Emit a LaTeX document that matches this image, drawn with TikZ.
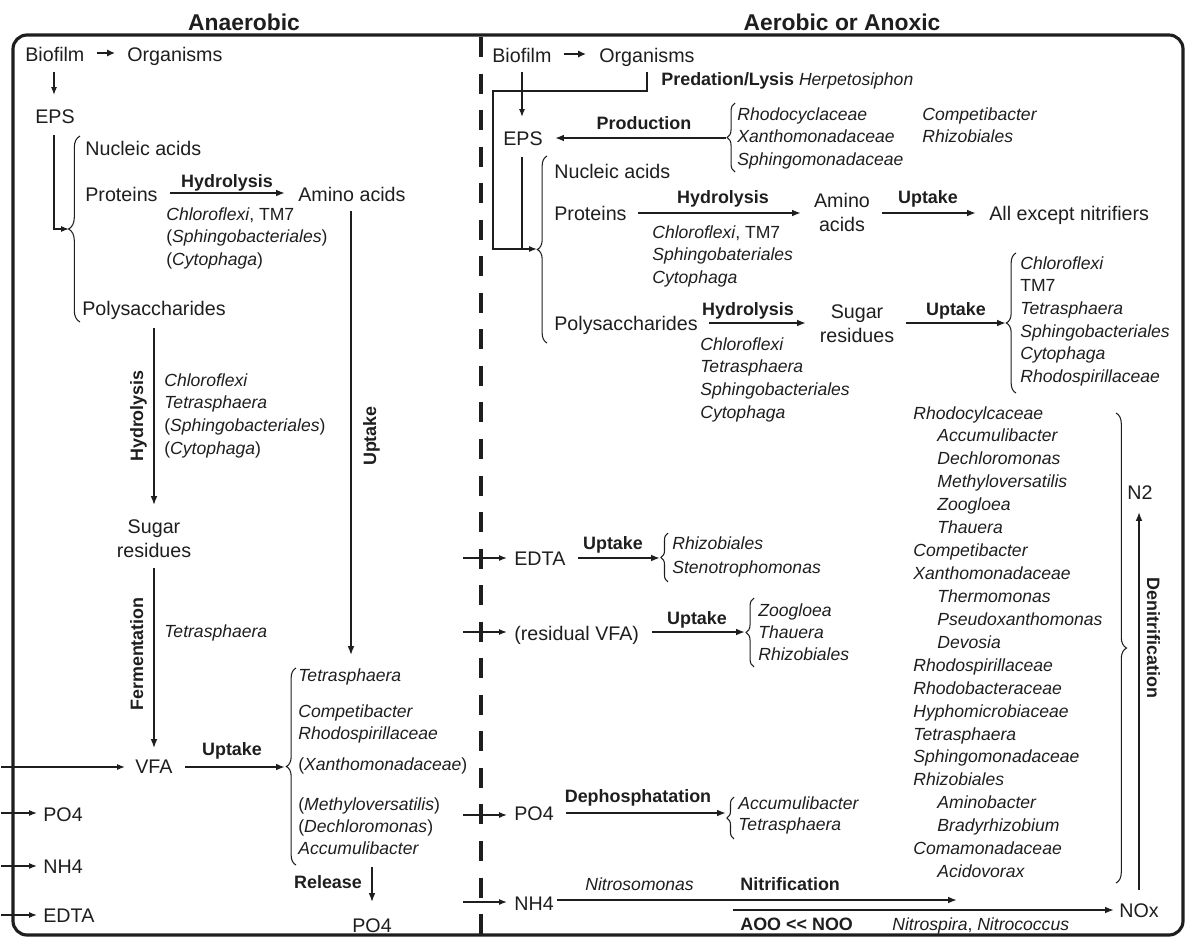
\documentclass[tikz,border=0pt]{standalone}
\usepackage{fontspec}
\setmainfont{Liberation Sans}
\usetikzlibrary{arrows.meta,decorations.pathreplacing}
\definecolor{ink}{RGB}{30,30,30}
\newcommand{\tl}[1]{\begin{tabular}[t]{@{}l@{}}#1\end{tabular}}
\newcommand{\tcc}[1]{\begin{tabular}[t]{@{}c@{}}#1\end{tabular}}
\newcommand{\ital}[1]{\textit{#1}}
\begin{document}
\begin{tikzpicture}[x=0.02cm,y=-0.02cm,
  every node/.style={inner sep=0pt, text=ink},
  reg/.style={font=\fontsize{11.2}{14.2}\selectfont, anchor=base west},
  sm/.style={font=\fontsize{10}{12.9}\selectfont, anchor=base west},
  itl/.style={font=\fontsize{10}{12.9}\selectfont\itshape, anchor=base west},
  bld/.style={font=\fontsize{10.2}{13}\selectfont\bfseries, anchor=base},
  hd/.style={font=\fontsize{13}{15}\selectfont\bfseries, anchor=base},
  harr/.style={draw=ink, line width=1.1pt, -{Latex[length=5pt,width=3.8pt]}},
  varr/.style={draw=ink, line width=0.9pt, -{Latex[length=5pt,width=3.8pt]}},
  tarr/.style={draw=ink, line width=0.7pt, -{Latex[length=4.5pt,width=3.4pt]}},
  sarr/.style={draw=ink, line width=1.2pt, -{Latex[length=4.5pt,width=4.2pt]}},
  tln/.style={draw=ink, line width=0.7pt},
  brc/.style={draw=ink, line width=0.6pt, decorate, decoration={brace, amplitude=#1}},
  brc/.default=6pt
]
\useasboundingbox (0,0) rectangle (1186,937);

% frame and separator
\draw[ink, line width=1.8pt, rounded corners=8pt] (13,35) rectangle (1183,935);
\draw[ink, line width=2.4pt, dash pattern=on 11.4pt off 9.4pt] (481,37) -- (481,935);

% headings
\node[hd] (hAn) at (244,30) {Anaerobic};
\node[hd] (hAe) at (842,30) {Aerobic or Anoxic};

% ================= LEFT (anaerobic) =================
\node[reg] (lBio) at (25,61) {Biofilm};
\node[reg] (lOrg) at (127,61) {Organisms};
\node[reg] (lEPS) at (35,123) {EPS};
\node[reg] (lNuc) at (85,155) {Nucleic acids};
\node[reg] (lProt) at (85,201) {Proteins};
\node[reg] (lAmino) at (298,201) {Amino acids};
\node[bld] (lHyd1) at (227,187) {Hydrolysis};
\node[sm] (lProtOrg) at (166,220) {\tl{\ital{Chloroflexi}, TM7\\(\ital{Sphingobacteriales})\\(\ital{Cytophaga})}};
\node[reg] (lPoly) at (82,315) {Polysaccharides};
\node[bld, rotate=90] (lHyd2) at (143,416) {Hydrolysis};
\node[sm] (lPolyOrg) at (164,386) {\tl{\ital{Chloroflexi}\\\ital{Tetrasphaera}\\(\ital{Sphingobacteriales})\\(\ital{Cytophaga})}};
\node[reg, anchor=base] (lSugar) at (154,533) {\tcc{Sugar\\residues}};
\node[bld, rotate=90] (lFerm) at (143,654) {Fermentation};
\node[itl] (lFermOrg) at (164,637) {Tetrasphaera};
\node[bld, rotate=90] (lUpt) at (376,436) {Uptake};
\node[reg] (lVFA) at (135,773) {VFA};
\node[bld] (lUpt2) at (232,755) {Uptake};
\node[itl] (lG1) at (298,681) {Tetrasphaera};
\node[itl] (lG2) at (298,717) {\tl{Competibacter\\Rhodospirillaceae}};
\node[sm] (lG3) at (298,770) {(\ital{Xanthomonadaceae})};
\node[sm, font=\fontsize{10}{12.6}\selectfont] (lG4) at (298,810) {\tl{(\ital{Methyloversatilis})\\(\ital{Dechloromonas})\\\ital{Accumulibacter}}};
\node[bld] (lRel) at (328,888) {Release};
\node[reg] (lPO4b) at (352,932) {PO4};
\node[reg] (lPO4) at (43,821) {PO4};
\node[reg] (lNH4) at (43,873) {NH4};
\node[reg] (lEDTA) at (43,922) {EDTA};

\coordinate (lBioR) at (97,53);  \coordinate (lOrgL) at (115,53);
\coordinate (lBioD) at (54,72);  \coordinate (lEPSU) at (54,95);
\coordinate (lEPSD) at (54,135); \coordinate (lBr1Tip) at (69,229);
\coordinate (lProtR) at (170,193); \coordinate (lAminoL) at (285,193);
\coordinate (lPolyD) at (154,328); \coordinate (lSugarU) at (154,505);
\coordinate (lSugarD) at (154,568); \coordinate (lVFAU) at (154,748);
\coordinate (lAminoD) at (351,211); \coordinate (lListU) at (351,655);
\coordinate (lInV) at (1,767); \coordinate (lVFAL) at (125,767);
\coordinate (lVFAR) at (185,767); \coordinate (lBr2Tip) at (285,767);
\coordinate (lRelU) at (372,867); \coordinate (lPO4bU) at (372,902);
\coordinate (lInP) at (1,813); \coordinate (lPO4L) at (37,813);
\coordinate (lInN) at (1,866); \coordinate (lNH4L) at (37,866);
\coordinate (lInE) at (1,915); \coordinate (lEDTAL) at (37,915);

\draw[sarr] (lBioR) -- (lOrgL);
\draw[tarr] (lBioD) -- (lEPSU);
\draw[tarr] (lEPSD) |- (lBr1Tip);
\draw[brc=6.5pt] (80,322) -- (80,136);
\draw[harr] (lProtR) -- (lAminoL);
\draw[varr] (lPolyD) -- (lSugarU);
\draw[varr] (lSugarD) -- (lVFAU);
\draw[varr] (lAminoD) -- (lListU);
\draw[tarr] (lInV) -- (lVFAL);
\draw[harr] (lVFAR) -- (lBr2Tip);
\draw[brc=5.5pt] (296,865) -- (296,668);
\draw[varr] (lRelU) -- (lPO4bU);
\draw[tarr] (lInP) -- (lPO4L);
\draw[tarr] (lInN) -- (lNH4L);
\draw[tarr] (lInE) -- (lEDTAL);

% ================= RIGHT (aerobic / anoxic) =================
\node[reg] (rBio) at (492,62) {Biofilm};
\node[reg] (rOrg) at (599,62) {Organisms};
\node[anchor=base west] (rPred) at (661,85) {{\fontsize{10.2}{13}\selectfont\bfseries Predation/Lysis} {\fontsize{10}{13}\selectfont\itshape Herpetosiphon}};
\node[reg] (rEPS) at (503,145) {EPS};
\node[bld] (rProd) at (644,129) {Production};
\node[itl] (rProdOrg1) at (737,120) {\tl{Rhodocyclaceae\\Xanthomonadaceae\\Sphingomonadaceae}};
\node[itl] (rProdOrg2) at (922,120) {\tl{Competibacter\\Rhizobiales}};
\node[reg] (rNuc) at (554,178) {Nucleic acids};
\node[reg] (rProt) at (554,220) {Proteins};
\node[bld] (rHyd1) at (723,203) {Hydrolysis};
\node[sm] (rProtOrg) at (652,238) {\tl{\ital{Chloroflexi}, TM7\\\ital{Sphingobateriales}\\\ital{Cytophaga}}};
\node[reg, anchor=base] (rAmino) at (842,207) {\tcc{Amino\\acids}};
\node[bld] (rUpt1) at (928,203) {Uptake};
\node[reg] (rAll) at (989,220) {All except nitrifiers};
\node[reg] (rPoly) at (554,330) {Polysaccharides};
\node[bld] (rHyd2) at (748,315) {Hydrolysis};
\node[itl] (rPolyOrg) at (700,350) {\tl{Chloroflexi\\Tetrasphaera\\Sphingobacteriales\\Cytophaga}};
\node[reg, anchor=base] (rSugar) at (857,318) {\tcc{Sugar\\residues}};
\node[bld] (rUpt2) at (956,315) {Uptake};
\node[sm] (rSugOrg) at (1020,269) {\tl{\ital{Chloroflexi}\\TM7\\\ital{Tetrasphaera}\\\ital{Sphingobacteriales}\\\ital{Cytophaga}\\\ital{Rhodospirillaceae}}};

\node[reg] (rEDTA) at (514,565) {EDTA};
\node[bld] (rUpt3) at (613,549) {Uptake};
\node[itl, font=\fontsize{10}{14.2}\selectfont\itshape] (rEDTAOrg) at (672,549) {\tl{Rhizobiales\\Stenotrophomonas}};
\node[reg] (rVFA) at (514,640) {(residual VFA)};
\node[bld] (rUpt4) at (697,624) {Uptake};
\node[itl, font=\fontsize{10}{12.6}\selectfont\itshape] (rVFAOrg) at (758,616) {\tl{Zoogloea\\Thauera\\Rhizobiales}};
\node[reg] (rPO4) at (514,820) {PO4};
\node[bld] (rDeph) at (638,802) {Dephosphatation};
\node[itl, font=\fontsize{10}{12}\selectfont\itshape] (rDephOrg) at (738,809) {\tl{Accumulibacter\\Tetrasphaera}};
\node[reg] (rNH4) at (514,910) {NH4};
\node[itl] (rNitroso) at (585,890) {Nitrosomonas};
\node[bld, anchor=base west] (rNitr) at (740,890) {Nitrification};
\node[bld, anchor=base west] (rAOO) at (740,930) {AOO <{}< NOO};
\node[sm] (rNitrosp) at (892,930) {\ital{Nitrospira}, \ital{Nitrococcus}};
\node[reg] (rNOx) at (1119,917) {NOx};
\node[reg] (rN2) at (1127,499) {N2};
\node[bld, rotate=-90] (rDen) at (1147,638) {Denitrification};
\node[itl, font=\fontsize{10}{13.05}\selectfont\itshape] (rDenOrg) at (913,419) {\tl{Rhodocylcaceae\\
\hspace*{13.7pt}Accumulibacter\\
\hspace*{13.7pt}Dechloromonas\\
\hspace*{13.7pt}Methyloversatilis\\
\hspace*{13.7pt}Zoogloea\\
\hspace*{13.7pt}Thauera\\
Competibacter\\
Xanthomonadaceae\\
\hspace*{13.7pt}Thermomonas\\
\hspace*{13.7pt}Pseudoxanthomonas\\
\hspace*{13.7pt}Devosia\\
Rhodospirillaceae\\
Rhodobacteraceae\\
Hyphomicrobiaceae\\
Tetrasphaera\\
Sphingomonadaceae\\
Rhizobiales\\
\hspace*{13.7pt}Aminobacter\\
\hspace*{13.7pt}Bradyrhizobium\\
Comamonadaceae\\
\hspace*{13.7pt}Acidovorax}};

\coordinate (rBioR) at (564,54);  \coordinate (rOrgL) at (586,54);
\coordinate (rBioD) at (522,72);  \coordinate (rEPSU) at (522,117);
\coordinate (rOrgD) at (647,72);  \coordinate (rPredC) at (493,91);
\coordinate (rEPSD) at (522,157); \coordinate (rEPSJ) at (522,249);
\coordinate (rBr1Tip) at (537,249);
\coordinate (rProdBr) at (726,138); \coordinate (rEPSR) at (555,138);
\coordinate (rProtR) at (638,213); \coordinate (rAminoL) at (801,213);
\coordinate (rAminoR) at (882,213); \coordinate (rAllL) at (976,213);
\coordinate (rPolyR) at (709,323); \coordinate (rSugarL) at (806,323);
\coordinate (rSugarR) at (906,323); \coordinate (rBr2Tip) at (1006,323);
\coordinate (rInE) at (463,558); \coordinate (rEDTAL) at (507,558);
\coordinate (rEDTAR) at (578,558); \coordinate (rBr3Tip) at (660,558);
\coordinate (rInV) at (463,632); \coordinate (rVFAL) at (507,632);
\coordinate (rVFAR) at (652,632); \coordinate (rBr4Tip) at (745,632);
\coordinate (rInP) at (463,815); \coordinate (rPO4L) at (507,815);
\coordinate (rPO4R) at (566,813); \coordinate (rBr5Tip) at (726,813);
\coordinate (rInN) at (463,902); \coordinate (rNH4L) at (507,902);
\coordinate (rNH4R) at (557,900); \coordinate (rNitrEnd) at (957,900);
\coordinate (rNOOS) at (733,910); \coordinate (rNOxL) at (1114,910);
\coordinate (rNOxU) at (1139,890); \coordinate (rN2D) at (1139,512);

\draw[sarr] (rBioR) -- (rOrgL);
\draw[tarr] (rBioD) -- (rEPSU);
\draw[tln] (rEPSD) -- (rEPSJ);
\draw[tarr] (rOrgD) |- (rPredC) |- (rBr1Tip);
\draw[brc=5.5pt] (547,343) -- (547,156);
\draw[harr] (rProdBr) -- (rEPSR);
\draw[brc=4.5pt] (735,172) -- (735,103);
\draw[harr] (rProtR) -- (rAminoL);
\draw[harr] (rAminoR) -- (rAllL);
\draw[harr] (rPolyR) -- (rSugarL);
\draw[harr] (rSugarR) -- (rBr2Tip);
\draw[brc=5.5pt] (1016,393) -- (1016,253);
\draw[tarr] (rInE) -- (rEDTAL);
\draw[harr] (rEDTAR) -- (rBr3Tip);
\draw[brc=4pt] (668,582) -- (668,533);
\draw[tarr] (rInV) -- (rVFAL);
\draw[harr] (rVFAR) -- (rBr4Tip);
\draw[brc=4.5pt] (754,667) -- (754,598);
\draw[tarr] (rInP) -- (rPO4L);
\draw[harr] (rPO4R) -- (rBr5Tip);
\draw[brc=4pt] (734,839) -- (734,797);
\draw[tarr] (rInN) -- (rNH4L);
\draw[harr] (rNH4R) -- (rNitrEnd);
\draw[harr] (rNOOS) -- (rNOxL);
\draw[varr] (rNOxU) -- (rN2D);
\draw[brc=6pt] (1116,413) -- (1116,883);
\end{tikzpicture}
\end{document}
